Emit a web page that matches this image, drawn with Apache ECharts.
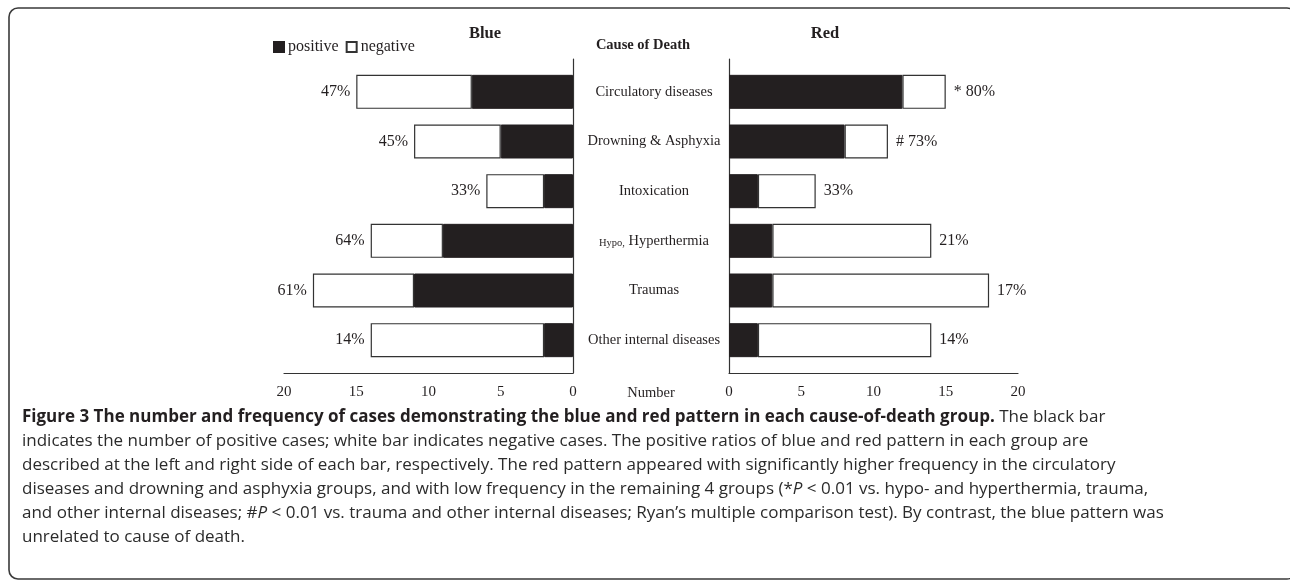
<!DOCTYPE html>
<html>
<head>
<meta charset="utf-8">
<script src="https://cdn.jsdelivr.net/npm/echarts@6/dist/echarts.min.js"></script>
<style>html,body{margin:0;padding:0;background:#fff}#c{width:1290px;height:581px}</style>
</head>
<body>
<div id="c"></div>
<script>
const categories = ['Circulatory diseases', 'Drowning & Asphyxia', 'Intoxication', 'Hypo, Hyperthermia', 'Traumas', 'Other internal diseases'];
const bluePositive = [7, 5, 2, 9, 11, 2];
const blueNegative = [8, 6, 4, 5, 7, 12];
const redPositive = [12, 8, 2, 3, 3, 2];
const redNegative = [3, 3, 4, 11, 15, 12];
const blueLabels = ['47%', '45%', '33%', '64%', '61%', '14%'];
const redLabels = ['* 80%', '# 73%', '33%', '21%', '17%', '14%'];
const axisMin = 0, axisMax = 20, axisStep = 5;

const SERIF = 'Liberation Serif';
const INK = '#231f20';

const chart = echarts.init(document.getElementById('c'), null, {renderer: 'canvas'});

function outerX(grid, inverse) {
  return {
    type: 'value', gridIndex: grid, min: axisMin, max: axisMax, interval: axisStep, inverse: inverse,
    axisLine: {show: true, lineStyle: {color: '#333', width: 1.2}},
    axisTick: {show: false}, splitLine: {show: false},
    axisLabel: {color: INK, fontFamily: SERIF, fontSize: 15, margin: 12}
  };
}
function innerX(grid, inverse) {
  return {type: 'value', gridIndex: grid, min: axisMin, max: axisMax, inverse: inverse, show: false, splitLine: {show: false}};
}
function outerY(grid, pos) {
  return {
    type: 'category', gridIndex: grid, data: categories, inverse: true, position: pos,
    axisLine: {show: true, lineStyle: {color: '#333', width: 1.2}},
    axisTick: {show: false}, axisLabel: {show: false}, splitLine: {show: false}
  };
}

const posStyle = {color: INK, borderColor: INK, borderWidth: 1};
const negStyle = {color: '#ffffff', borderColor: '#333', borderWidth: 1.2};

const option = {
  animation: false,
  backgroundColor: '#ffffff',
  legend: {
    left: 273, top: 39, padding: 0, itemWidth: 10, itemHeight: 10, itemGap: 7, icon: 'rect',
    data: ['positive', 'negative'],
    textStyle: {fontFamily: SERIF, fontSize: 16, color: INK, padding: [0, 0, 0, -1]}
  },
  grid: [
    {left: 284, right: 717, top: 59, bottom: 208},
    {left: 284, right: 717, top: 67, bottom: 216},
    {left: 729, right: 272, top: 59, bottom: 208},
    {left: 729, right: 272, top: 67, bottom: 216}
  ],
  xAxis: [outerX(0, true), innerX(1, true), outerX(2, false), innerX(3, false)],
  yAxis: [
    outerY(0, 'right'),
    {
      type: 'category', gridIndex: 1, data: categories, inverse: true, position: 'right',
      axisLine: {show: false}, axisTick: {show: false}, splitLine: {show: false},
      axisLabel: {
        align: 'center', margin: 81, color: INK, fontFamily: SERIF, fontSize: 14.5,
        formatter: function (v) {
          if (v.indexOf('Hypo, ') === 0) return '{s|Hypo,} ' + v.slice(6);
          return v;
        },
        rich: {s: {fontFamily: SERIF, fontSize: 10.5, color: INK, verticalAlign: 'bottom', padding: [2, 0, 0, 0]}}
      }
    },
    outerY(2, 'left'),
    {type: 'category', gridIndex: 3, data: categories, inverse: true, show: false}
  ],
  series: [
    {name: 'positive', type: 'bar', xAxisIndex: 1, yAxisIndex: 1, stack: 'blue', barWidth: 34, data: bluePositive, itemStyle: posStyle},
    {name: 'negative', type: 'bar', xAxisIndex: 1, yAxisIndex: 1, stack: 'blue', barWidth: 34, data: blueNegative, itemStyle: negStyle,
      label: {show: true, position: 'left', distance: 6, color: INK, fontFamily: SERIF, fontSize: 16,
        formatter: function (p) { return blueLabels[p.dataIndex]; }}},
    {name: 'positive', type: 'bar', xAxisIndex: 3, yAxisIndex: 3, stack: 'red', barWidth: 34, data: redPositive, itemStyle: posStyle},
    {name: 'negative', type: 'bar', xAxisIndex: 3, yAxisIndex: 3, stack: 'red', barWidth: 34, data: redNegative, itemStyle: negStyle,
      label: {show: true, position: 'right', distance: 8, color: INK, fontFamily: SERIF, fontSize: 16,
        formatter: function (p) { return redLabels[p.dataIndex]; }}}
  ],
  graphic: [
    {type: 'rect', silent: true, shape: {x: 9, y: 8, width: 1287, height: 571, r: 9},
      style: {fill: 'none', stroke: '#3a3a3a', lineWidth: 1.6}},
    {type: 'text', x: 485, y: 34, style: {text: 'Blue', fontFamily: SERIF, fontWeight: 'bold', fontSize: 16.5, fill: INK, align: 'center', verticalAlign: 'middle'}},
    {type: 'text', x: 825, y: 34, style: {text: 'Red', fontFamily: SERIF, fontWeight: 'bold', fontSize: 16.5, fill: INK, align: 'center', verticalAlign: 'middle'}},
    {type: 'text', x: 643, y: 45, style: {text: 'Cause of Death', fontFamily: SERIF, fontWeight: 'bold', fontSize: 14.5, fill: INK, align: 'center', verticalAlign: 'middle'}},
    {type: 'text', x: 651, y: 393, style: {text: 'Number', fontFamily: SERIF, fontSize: 14.5, fill: INK, align: 'center', verticalAlign: 'middle'}},
    {type: 'text', x: 22, y: 405, style: {
      text: '{b|Figure 3 The number and frequency of cases demonstrating the blue and red pattern in each cause-of-death group.}{n| The black bar}\n' +
        '{n|indicates the number of positive cases; white bar indicates negative cases. The positive ratios of blue and red pattern in each group are}\n' +
        '{n|described at the left and right side of each bar, respectively. The red pattern appeared with significantly higher frequency in the circulatory}\n' +
        '{n|diseases and drowning and asphyxia groups, and with low frequency in the remaining 4 groups (*}{i|P}{n| < 0.01 vs. hypo- and hyperthermia, trauma,}\n' +
        '{n|and other internal diseases; #}{i|P}{n| < 0.01 vs. trauma and other internal diseases; Ryan\u2019s multiple comparison test). By contrast, the blue pattern was}\n' +
        '{n|unrelated to cause of death.}',
      rich: {
        b: {fontFamily: 'Open Sans', fontWeight: 'bold', fontSize: 17, fill: INK, lineHeight: 24},
        n: {fontFamily: 'Open Sans', fontSize: 17, fill: '#2b2b2b', lineHeight: 24},
        i: {fontFamily: 'Open Sans', fontStyle: 'italic', fontSize: 17, fill: '#2b2b2b', lineHeight: 24}
      }
    }}
  ]
};
chart.setOption(option);
</script>
</body>
</html>
